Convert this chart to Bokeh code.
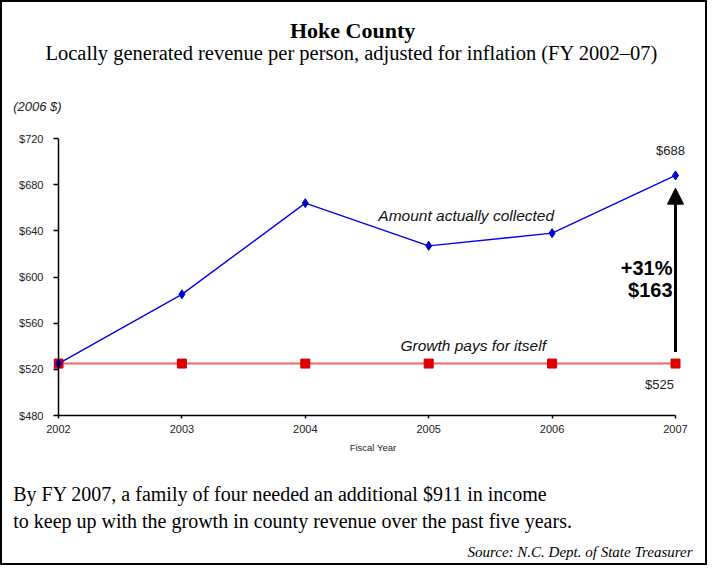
from bokeh.plotting import figure
from bokeh.layouts import column
from bokeh.models import Title, Arrow, NormalHead, FixedTicker, Span
from bokeh.core.properties import value
from bokeh.embed import file_html
from bokeh.resources import INLINE

# ---- data ----
years = [2002, 2003, 2004, 2005, 2006, 2007]
actual = [525, 585, 664, 627, 638, 688]
baseline = [525, 525, 525, 525, 525, 525]
y_ticks = [480, 520, 560, 600, 640, 680, 720]
x_ticks = [2002, 2003, 2004, 2005, 2006, 2007]

title = "Hoke County"
subtitle = "Locally generated revenue per person, adjusted for inflation (FY 2002\u201307)"
units = "(2006 $)"
note1 = "By FY 2007, a family of four needed an additional $911 in income"
note2 = "to keep up with the growth in county revenue over the past five years."
source = "Source: N.C. Dept. of State Treasurer"

SANS = "Liberation Sans"
SERIF = "Liberation Serif"
W = 703
BL, BR = 51, 13   # left / right borders shared by all stacked figures


def text_fig(h, top, bottom):
    f = figure(width=W, height=h, output_backend="svg", toolbar_location=None,
               x_axis_type=None, y_axis_type=None,
               min_border_left=BL, min_border_right=BR,
               min_border_top=top, min_border_bottom=bottom)
    f.outline_line_color = None
    f.grid.visible = False
    f.border_fill_color = "white"
    f.background_fill_color = "white"
    return f


def ttl(f, side, text, font, size, style="normal", align="left", offset=0,
        standoff=0, valign="bottom", color="black"):
    f.add_layout(Title(text=text, align=align, offset=offset, standoff=standoff,
                       vertical_align=valign, text_font=font, text_font_size=size,
                       text_font_style=style, text_color=color), side)


# ---- top text block ----
top = text_fig(118, 61, 22)
ttl(top, "above", subtitle, SERIF, "20.5px", offset=-8, standoff=0)
ttl(top, "above", title, SERIF, "22px", "bold", offset=236.5, standoff=-6)
ttl(top, "below", units, SANS, "13px", "italic", offset=-40.3, standoff=0, valign="top", color="#222222")

# ---- main chart ----
px_per_year = 123.4
x_lo = years[0] - 5 / px_per_year
x_hi = years[-1] + 17 / px_per_year
p = figure(width=W, height=340, output_backend="svg", toolbar_location=None,
           x_range=(x_lo, x_hi), y_range=(y_ticks[0], y_ticks[-1]),
           min_border_left=BL, min_border_right=BR, min_border_top=18, min_border_bottom=45)
p.grid.visible = False
p.outline_line_color = None
p.background_fill_color = "white"
p.border_fill_color = "white"

p.yaxis.ticker = FixedTicker(ticks=y_ticks)
p.yaxis.major_label_overrides = {t: f"${t}" for t in y_ticks}
p.xaxis.bounds = (x_ticks[0], x_ticks[-1])
p.xaxis.ticker = FixedTicker(ticks=x_ticks)
p.xaxis.major_label_overrides = {t: str(t) for t in x_ticks}
p.xaxis.axis_label = "Fiscal Year"
p.xaxis.axis_label_text_font = SANS
p.xaxis.axis_label_text_font_size = "9.5px"
p.xaxis.axis_label_text_font_style = "normal"
p.xaxis.axis_label_text_color = "#222222"
p.xaxis.axis_label_standoff = 6
for ax in (p.xaxis, p.yaxis):
    ax.major_tick_line_color = "black"
    ax.major_tick_line_width = 1.5
    ax.minor_tick_line_color = None
    ax.major_label_text_font = SANS
    ax.major_label_text_font_size = "11px"
    ax.major_label_text_color = "#222222"
p.xaxis.axis_line_color = "black"
p.xaxis.axis_line_width = 1.5
p.xaxis.major_tick_in = 0
p.xaxis.major_tick_out = 3
p.xaxis.major_label_standoff = 6
# y axis line drawn at the first year; ticks reach from frame edge to it
p.yaxis.axis_line_color = None
p.yaxis.major_tick_in = 5
p.yaxis.major_tick_out = 0
p.yaxis.major_label_standoff = 10
p.add_layout(Span(location=years[0], dimension="height", line_color="black", line_width=1.5))

# series
p.line(years, baseline, line_color="#ee6666", line_width=2)
p.scatter(years, baseline, marker="square", size=9, fill_color="#dd0000", line_color="#dd0000")
p.line(years, actual, line_color="#0000ee", line_width=1.4)
p.scatter(years, actual, marker="diamond", size=9, fill_color="#0000cc", line_color="#0000cc")

# arrow
p.add_layout(Arrow(end=NormalHead(size=16, fill_color="black", line_color="black"),
                   x_start=years[-1], y_start=baseline[-1] + 10,
                   x_end=years[-1], y_end=actual[-1] - 11,
                   line_color="black", line_width=3))

diff = actual[-1] - baseline[-1]
pct = round(100 * diff / baseline[-1])
mid = (actual[-1] + baseline[-1]) / 2


def gtext(x, y, t, xo, yo, size, style="normal", align="center", color="#222222"):
    p.text(x=[x], y=[y], text=[t], x_offset=xo, y_offset=yo, text_align=align,
           text_baseline="middle", text_font=value(SANS), text_font_size=size,
           text_font_style=style, text_color=color)


gtext(years[-1], actual[-1], f"${actual[-1]}", -5, -25, "13px")
gtext(years[-1], baseline[-1], f"${baseline[-1]}", -16, 21, "13px")
gtext(years[-1], mid, f"+{pct}%", -3, -1, "20px", "bold", "right", "black")
gtext(years[-1], mid, f"${diff}", -3, 20.5, "20px", "bold", "right", "black")
gtext(years[3], actual[3], "Amount actually collected", 37.5, -30, "15.5px", "italic", "center", "#111111")
gtext(years[3], baseline[3], "Growth pays for itself", 44.5, -18, "15.5px", "italic", "center", "#111111")

# ---- bottom text block ----
bot = text_fig(103, 71, 20)
ttl(bot, "above", note2, SERIF, "20px", offset=-40.3, standoff=0)
ttl(bot, "above", note1, SERIF, "20px", offset=-40.3, standoff=4.4)
ttl(bot, "below", source, SERIF, "15px", "italic", align="right", offset=0, standoff=0, valign="top")

layout = column(top, p, bot, spacing=0,
                styles={"border": "2px solid black", "background-color": "white"})
open("out.html", "w").write(file_html(layout, INLINE))
